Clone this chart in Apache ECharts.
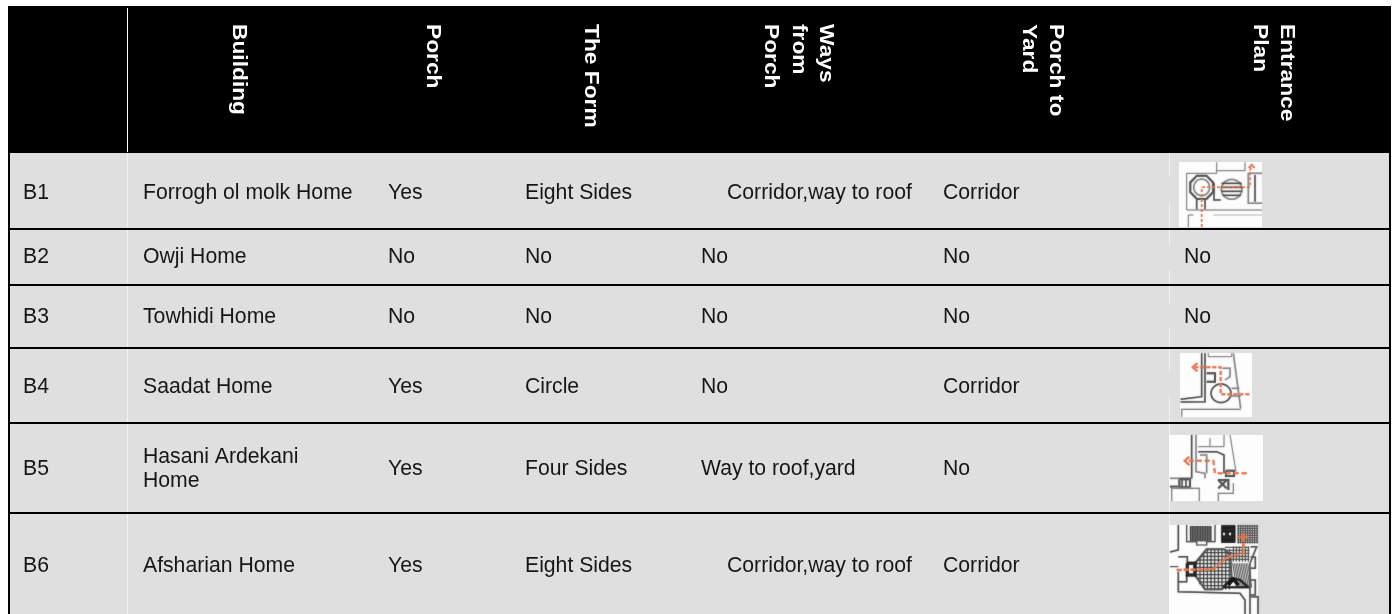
<!DOCTYPE html>
<html><head><meta charset="utf-8">
<style>html,body{margin:0;padding:0;background:#fff}#c{width:1394px;height:614px}</style>
<script src="https://cdn.jsdelivr.net/npm/echarts@6/dist/echarts.min.js"></script>
</head><body><div id="c"></div>
<script>
// ---- table content ----
const buildingIds = ['B1','B2','B3','B4','B5','B6'];
const buildingNames = ['Forrogh ol molk Home','Owji Home','Towhidi Home','Saadat Home','Hasani Ardekani\nHome','Afsharian Home'];
const porch = ['Yes','No','No','Yes','Yes','Yes'];
const forms = ['Eight Sides','No','No','Circle','Four Sides','Eight Sides'];
const waysFromPorch = ['Corridor,way to roof','No','No','No','Way to roof,yard','Corridor,way to roof'];
const porchToYard = ['Corridor','No','No','Corridor','No','Corridor'];
const entrancePlan = ['','No','No','','',''];
const headerLabels = ['Building','Porch','The Form','Ways\nfrom\nPorch','Porch to\nYard','Entrance\nPlan'];

// ---- layout ----
const W = 1394, H = 614;
const rowCenter = [193,257,317,387,469,566];
const colX = [23,143,388,525,701,943,1184];
const waysIndent = [727,701,701,701,701,727];
const headerX = [239,433,591,[826,799,771],[1056,1029],[1287,1260]];
const bands = [[153,228],[230,284],[286,347],[349,422],[424,512],[514,614]];
const dividerA = [[153,228],[230,284],[286,347],[349,422],[424,512],[514,614]];
const dividerB = [[153,177],[203,228],[230,245],[270,284],[286,303],[329,347],[349,372],[397,422],[424,435],[501,512],[514,525]];

const GR='#8a8a8a', DK='#555555', OR='#e2764f';
function poly(ox,oy,pts,color,width,dash,closed){
  return {pts:pts.map(p=>[ox+p[0]/3,oy+p[1]/3]),color,width,dash,closed};
}
function ring(cx,cy,rx,ry,n){const a=[];for(let i=0;i<n;i++){const t=(i+.5)/n*2*Math.PI;a.push([cx+rx*Math.cos(t),cy+ry*Math.sin(t)]);}return a;}

const planB1 = {box:[1179,162,1262,227],lines:(()=>{const o=[1150,150],P=(p,c,w,d,cl)=>poly(o[0],o[1],p,c,w,d,cl);return [
  P([[110,180],[110,70],[200,70],[200,37]],GR,1),
  P([[200,62],[285,62],[285,37]],GR,1),
  P(ring(155,112,37,38,8),DK,2,null,true),
  P(ring(155,112,24,25,16),GR,1.5,null,true),
  P(ring(245,118,31,30,20),GR,1.5,null,true),
  P([[215,100],[275,100]],DK,1.5),P([[214,112],[276,112]],DK,1.5),P([[214,124],[276,124]],DK,1.5),P([[218,136],[272,136]],DK,1.5),
  P([[192,100],[192,150],[212,150]],DK,1.5),
  P([[295,70],[336,70]],GR,1.5),P([[295,70],[295,160],[336,160]],GR,1.5),P([[315,75],[315,155]],DK,1.5),
  P([[110,180],[180,180],[336,180]],GR,1),
  P([[140,150],[140,178]],DK,1.5),P([[165,150],[165,178]],DK,1.5),
  P([[115,232],[115,195],[130,195]],GR,1),
  P([[190,195],[336,195]],'#c4c4c4',1),
  P([[155,232],[155,112],[300,112],[300,62],[305,48]],OR,1.5,[3,2]),
  P([[296,54],[305,44],[314,54]],OR,1.5)
];})()};

const planB4 = {box:[1180,353,1252,417],lines:(()=>{const o=[1150,340],P=(p,c,w,d,cl)=>poly(o[0],o[1],p,c,w,d,cl);return [
  P([[155,40],[155,170],[92,178]],DK,1.5),P([[165,40],[165,185],[92,186]],DK,1.5),
  P([[175,40],[175,50],[245,50],[245,40]],GR,1),
  P([[250,40],[272,205]],GR,1.5),
  P([[170,100],[195,100],[195,125],[170,125]],DK,2),
  P([[218,85],[240,85],[240,110],[225,120]],GR,1.5),
  P(ring(213,160,30,28,20),DK,1.5,null,true),
  P([[245,145],[268,145]],GR,1.5),P([[240,168],[272,168]],GR,1.5),
  P([[95,230],[95,208],[272,208]],GR,1.2),
  P([[298,163],[212,163],[212,82],[135,82]],OR,2,[4,2]),
  P([[142,70],[128,82],[142,94]],OR,2)
];})()};

const planB5 = {box:[1169,435,1263,501],lines:(()=>{const o=[1150,340],P=(p,c,w,d,cl)=>poly(o[0],o[1],p,c,w,d,cl);return [
  P([[125,285],[125,415]],DK,1.5),P([[138,285],[138,395],[165,400],[165,415]],GR,1.5),
  P([[145,320],[222,320],[222,285]],GR,1),P([[180,295],[180,320]],GR,1),
  P([[145,335],[200,335],[222,345],[222,400]],DK,1.5),
  P([[150,345],[170,345],[170,400]],GR,1.5),
  P([[240,285],[258,395]],GR,1),
  P([[205,420],[235,420],[235,450]],DK,2),
  P([[228,392],[252,392],[252,408],[228,408],[228,392]],DK,2),
  P([[60,415],[125,415]],GR,1.5),P([[60,440],[85,440]],DK,2),
  P([[88,418],[120,418],[120,442],[88,442],[88,418]],DK,2),P([[96,418],[96,442]],DK,1.5),P([[108,418],[108,442]],DK,1.5),
  P([[205,420],[230,445]],DK,2),P([[230,420],[205,445]],DK,2),
  P([[65,483],[65,445],[148,445],[148,483]],GR,1.2),P([[205,483],[205,460],[250,460],[250,430]],GR,1.2),
  P([[290,400],[195,400],[190,362],[110,362]],OR,2,[5,3]),
  P([[118,350],[104,362],[118,375]],OR,2)
];})()};

const planB6 = {box:[1169,525,1258,614],lines:(()=>{const o=[1150,500],P=(p,c,w,d,cl)=>poly(o[0],o[1],p,c,w,d,cl);const out=[];
  for(let x=122;x<186;x+=5) out.push(P([[x,78],[x,124]],'#444',1.5));
  out.push(P([[110,75],[110,125],[140,125],[140,135],[170,135],[170,125],[195,125],[195,75]],DK,1.2));
  for(let y=78;y<130;y+=4) out.push(P([[214,y],[256,y]],'#151515',1.5));
  out.push(P([[222,98],[222,106]],'#fff',1.5),P([[240,98],[240,106]],'#fff',1.5));
  for(let x=265;x<=324;x+=7) out.push(P([[x,75],[x,130]],DK,1));
  for(let y=78;y<=130;y+=7) out.push(P([[262,y],[324,y]],DK,1));
  const hall=[[135,190],[170,148],[222,148],[240,165],[245,235],[215,268],[165,268],[135,225]];
  for(let x=150;x<=240;x+=11){const top=x<170?148+(170-x)*1.2:148,bot=x<165?268-(165-x)*1.0:268;out.push(P([[x,top],[x,bot]],'#444',1));}
  for(let y=158;y<=262;y+=11){const l=y<190?135+(190-y)*.8:(y>225?135+(y-225)*.7:135),r=y>235?245-(y-235):245;out.push(P([[l,y],[r,y]],'#444',1));}
  out.push(P(hall,DK,2,null,true));
  for(let x=250;x<298;x+=9) out.push(P([[x,140],[x,185]],DK,1));
  for(let y=142;y<185;y+=9) out.push(P([[225,y],[298,y]],DK,1));
  for(let x=248;x<296;x+=5) out.push(P([[x,190],[x+12,262]],'#666',1));
  out.push(P([[220,262],[245,235],[270,240],[295,262],[220,262]],'#222',2));
  out.push(P([[235,255],[250,238],[265,255]],'#111',3));
  out.push(P([[85,75],[85,150],[60,156]],DK,1.5),P([[85,170],[112,170],[112,190]],DK,1.5),P([[60,200],[85,200]],DK,1));
  out.push(P([[85,215],[85,275],[270,280],[285,300],[285,342]],DK,1.5));
  out.push(P([[85,245],[110,245],[110,225]],DK,1.5));
  out.push(P([[112,190],[135,190],[135,225],[112,225],[112,190]],'#222',3));
  out.push(P([[302,140],[320,140],[300,190],[300,342]],DK,1.5),P([[302,172],[316,172],[316,205],[302,205]],DK,1.5),P([[302,240],[316,240],[316,285],[302,285]],DK,1.5),P([[302,290],[324,290],[324,342]],DK,1.5));
  out.push(P([[80,210],[190,208],[230,172],[280,160],[280,115]],OR,2.5,[5,2]));
  out.push(P([[262,110],[295,110]],OR,2),P([[280,100],[280,120]],OR,2));
  return out;
})()};
const plans = [planB1,planB4,planB5,planB6];

// ---- cells built from the arrays ----
const cells = [];
rowCenter.forEach((y,i)=>{
  [buildingIds,buildingNames,porch,forms,waysFromPorch,porchToYard,entrancePlan].forEach((col,j)=>{
    if(col[i]) cells.push([j===4?waysIndent[i]:colX[j],y,col[i]]);
  });
});
const headers = [];
headerLabels.forEach((lab,i)=>{
  lab.split('\n').forEach((t,k)=>{
    const xs = Array.isArray(headerX[i])?headerX[i][k]:headerX[i];
    headers.push([xs,24,t]);
  });
});

const noAxis = {show:false};
function rectEl(api,x0,y0,x1,y1,fill){
  const a=api.coord([x0,y0]),b=api.coord([x1,y1]);
  return {type:'rect',shape:{x:a[0],y:a[1],width:b[0]-a[0],height:b[1]-a[1]},style:{fill}};
}

const chart = echarts.init(document.getElementById('c'),null,{renderer:'canvas',width:W,height:H});
chart.setOption({
  animation:false,
  backgroundColor:'#ffffff',
  grid:{left:0,right:0,top:0,bottom:0},
  xAxis:{type:'value',min:0,max:W,...noAxis},
  yAxis:{type:'value',min:0,max:H,inverse:true,...noAxis},
  series:[
    {type:'custom',silent:true,coordinateSystem:'cartesian2d',clip:false,data:[[0,0]],z:1,
     renderItem:(p,api)=>({type:'group',children:[rectEl(api,8,6,1391,614,'#000000')].concat(bands.map(b=>rectEl(api,10,b[0],1389,b[1],'#dfdfdf')))})},
    {type:'custom',silent:true,clip:false,data:[[0,0]],z:2,
     renderItem:(p,api)=>({type:'group',children:[rectEl(api,127,8,128,152,'#ffffff')]
       .concat(dividerA.map(s=>rectEl(api,127,s[0],128,s[1],'#f2f2f2')))
       .concat(dividerB.map(s=>rectEl(api,1169,s[0],1170,s[1],'#f2f2f2')))})},
    {type:'custom',silent:true,clip:false,data:plans.map((_,i)=>[i,0]),z:3,
     renderItem:(p,api)=>{const pl=plans[p.dataIndex],b=pl.box;
       const ch=[rectEl(api,b[0],b[1],b[2],b[3],'#fdfdfd')];
       pl.lines.forEach(l=>{
         const pts=l.pts.map(q=>api.coord([Math.min(Math.max(q[0],b[0]),b[2]),Math.min(Math.max(q[1],b[1]),b[3])]));
         ch.push({type:l.closed?'polygon':'polyline',shape:{points:pts},style:{fill:null,stroke:l.color,lineWidth:l.width,lineDash:l.dash||null,opacity:.8,shadowBlur:1.5,shadowColor:l.color}});
       });
       return {type:'group',children:ch};}},
    {type:'custom',silent:true,clip:false,data:cells,z:4,encode:{x:0,y:1},
     renderItem:(p,api)=>{const c=api.coord([api.value(0),api.value(1)]);const d=cells[p.dataIndex];
       return {type:'text',x:c[0],y:c[1],style:{text:d[2],fill:'#161616',font:'21.2px "Liberation Sans", Arial, sans-serif',textAlign:'left',textVerticalAlign:'middle',lineHeight:24}};}},
    {type:'custom',silent:true,clip:false,data:headers,z:4,encode:{x:0,y:1},
     renderItem:(p,api)=>{const c=api.coord([api.value(0),api.value(1)]);const d=headers[p.dataIndex];
       return {type:'text',x:c[0],y:c[1],rotation:-Math.PI/2,scaleX:1.11,scaleY:1,originX:0,originY:0,style:{text:d[2],fill:'#ffffff',font:'bold 20.5px "Liberation Sans", Arial, sans-serif',textAlign:'left',textVerticalAlign:'middle'}};}}
  ]
});
</script></body></html>
